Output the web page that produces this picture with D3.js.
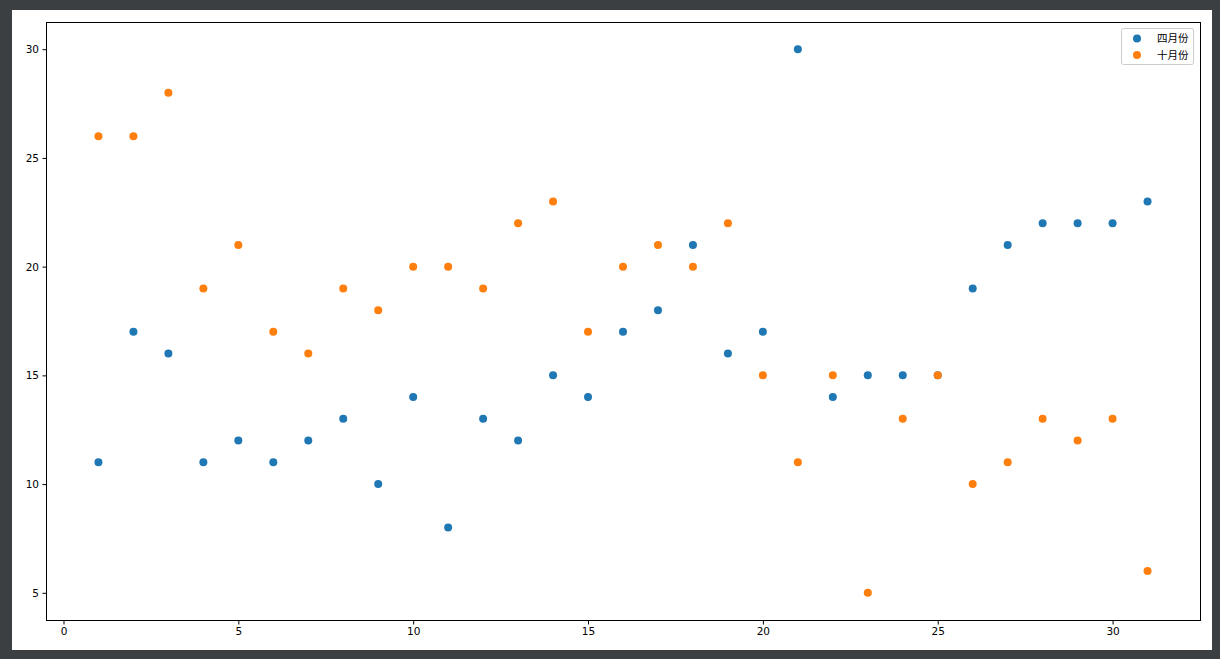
<!DOCTYPE html>
<html><head><meta charset="utf-8">
<script src="https://cdn.jsdelivr.net/npm/d3@7"></script>
<style>
html,body{margin:0;padding:0;background:#3c3f41;}
svg{display:block;}
</style></head>
<body>
<svg id="chart" width="1220" height="659"></svg>
<script>
const days = d3.range(1, 32);
const april = [11,17,16,11,12,11,12,13,10,14,8,13,12,15,14,17,18,21,16,17,30,14,15,15,15,19,21,22,22,22,23];
const october = [26,26,28,19,21,17,16,19,18,20,20,19,22,23,17,20,21,20,22,15,11,15,5,13,15,10,11,13,12,13,6];
const seriesNames = ["四月份", "十月份"];
const colors = ["#1f77b4", "#ff7f0e"];
const xTicks = [0,5,10,15,20,25,30];
const yTicks = [5,10,15,20,25,30];

const svg = d3.select("#chart");
svg.append("rect").attr("x",12).attr("y",10).attr("width",1200).attr("height",640).attr("fill","#fff");

const L=46, T=22, R=1200, B=620;
const x = d3.scaleLinear().domain([-0.5, 32.5]).range([L, R]);
const y = d3.scaleLinear().domain([3.75, 31.25]).range([B, T]);

const font = "'DejaVu Sans', sans-serif";
const xa = svg.append("g").attr("transform",`translate(0,${B+0.5})`)
  .call(d3.axisBottom(x).tickValues(xTicks).tickSize(4).tickPadding(3.5).tickFormat(d3.format("d")));
const ya = svg.append("g").attr("transform",`translate(${L+0.5},0)`)
  .call(d3.axisLeft(y).tickValues(yTicks).tickSize(4).tickPadding(3.5).tickFormat(d3.format("d")));
[xa,ya].forEach(a=>{
  a.select(".domain").remove();
  a.selectAll("line").attr("stroke","#000").attr("stroke-width",1);
  a.selectAll("text").attr("font-family",font).attr("font-size",10.5).attr("fill","#000");
});

const series = [april, october];
series.forEach((vals,i)=>{
  svg.append("g").selectAll("circle").data(days).join("circle")
    .attr("cx",d=>x(d)).attr("cy",(d,j)=>y(vals[j])).attr("r",4).attr("fill",colors[i]);
});

svg.append("rect").attr("x",L+0.5).attr("y",T+0.5).attr("width",R-L).attr("height",B-T)
  .attr("fill","none").attr("stroke","#000").attr("stroke-width",1);

// legend
const lg = svg.append("g");
lg.append("rect").attr("x",1121.5).attr("y",28.5).attr("width",72).attr("height",36).attr("rx",2)
  .attr("fill","#fff").attr("fill-opacity",0.8).attr("stroke","#ccc").attr("stroke-width",1);
seriesNames.forEach((n,i)=>{
  lg.append("circle").attr("cx",1137).attr("cy",38.5+i*16.5).attr("r",4).attr("fill",colors[i]);
  lg.append("text").attr("x",1157).attr("y",42+i*16.5).attr("font-family","'Noto Sans CJK SC', sans-serif")
    .attr("font-size",10.5).attr("fill","#000").text(n);
});
</script>
</body></html>
